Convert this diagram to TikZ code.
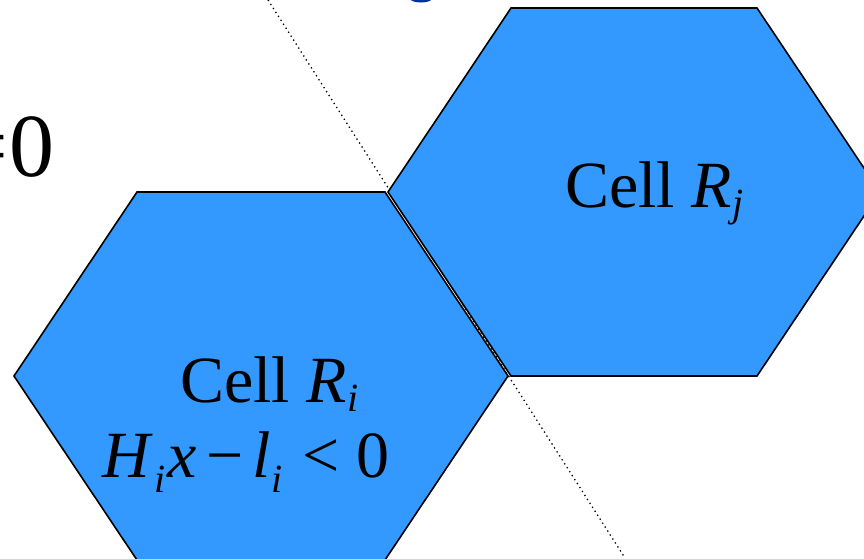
\documentclass[tikz,border=0pt]{standalone}
\usepackage{fontspec}
\setmainfont{Liberation Serif}
\usetikzlibrary{positioning}
\definecolor{cellblue}{RGB}{51,153,255}
\definecolor{titleblue}{RGB}{0,51,153}
\newcommand{\cellsub}[2]{\raisebox{-#2pt}{\fontsize{40}{40}\selectfont\textit{#1}}}

\begin{document}
\begin{tikzpicture}[x=1pt,y=-1pt,
    cell/.style={fill=cellblue, draw=black, line width=1.6pt, line join=miter},
    lbl/.style={anchor=base west, inner sep=0pt, font=\fontsize{66}{78}\selectfont}]
        \useasboundingbox (0,0) rectangle (864,558);
        \clip (0,0) rectangle (864,558);
        % Title (cut off)
        \fill[titleblue] (421,-1.5) ellipse (11 and 4);
        % Hyperplane between the cells
        \coordinate (ptop) at (268,0);
        \coordinate (pbot) at (625,558);
        \draw[dash pattern=on 1.3pt off 3.4pt, line width=1.3pt] (ptop) -- (pbot);
        % Cell R_i
        \draw[cell] (14,376) -- (137,192) -- (385,192) -- (508,376) -- (385,560) -- (137,560) -- cycle;
        % Cell R_j
        \draw[cell] (388,192) -- (511,8) -- (757,8) -- (880,192) -- (757,376) -- (511,376) -- cycle;
        % Labels
        \node[lbl] (ri) at (180,402) {Cell\hspace{16pt}\textit{R}\hspace{1pt}\cellsub{i}{9}};
        \node[lbl] (hi) at (102,477) {\textit{H}\hspace{2pt}\cellsub{i}{15}\hspace{2pt}\textit{x}\hspace{9pt}−\hspace{9pt}\textit{l}\hspace{1pt}\cellsub{i}{15}\hspace{20pt}<\hspace{16pt}0};
        \node[lbl] (rj) at (565,207) {Cell\hspace{16pt}\textit{R}\hspace{1pt}\cellsub{j}{9}};
        \node[anchor=base east, inner sep=0pt, font=\fontsize{90}{100}\selectfont] (eq) at (55,176) {=\hspace{2pt}0};
    \end{tikzpicture}
\end{document}
